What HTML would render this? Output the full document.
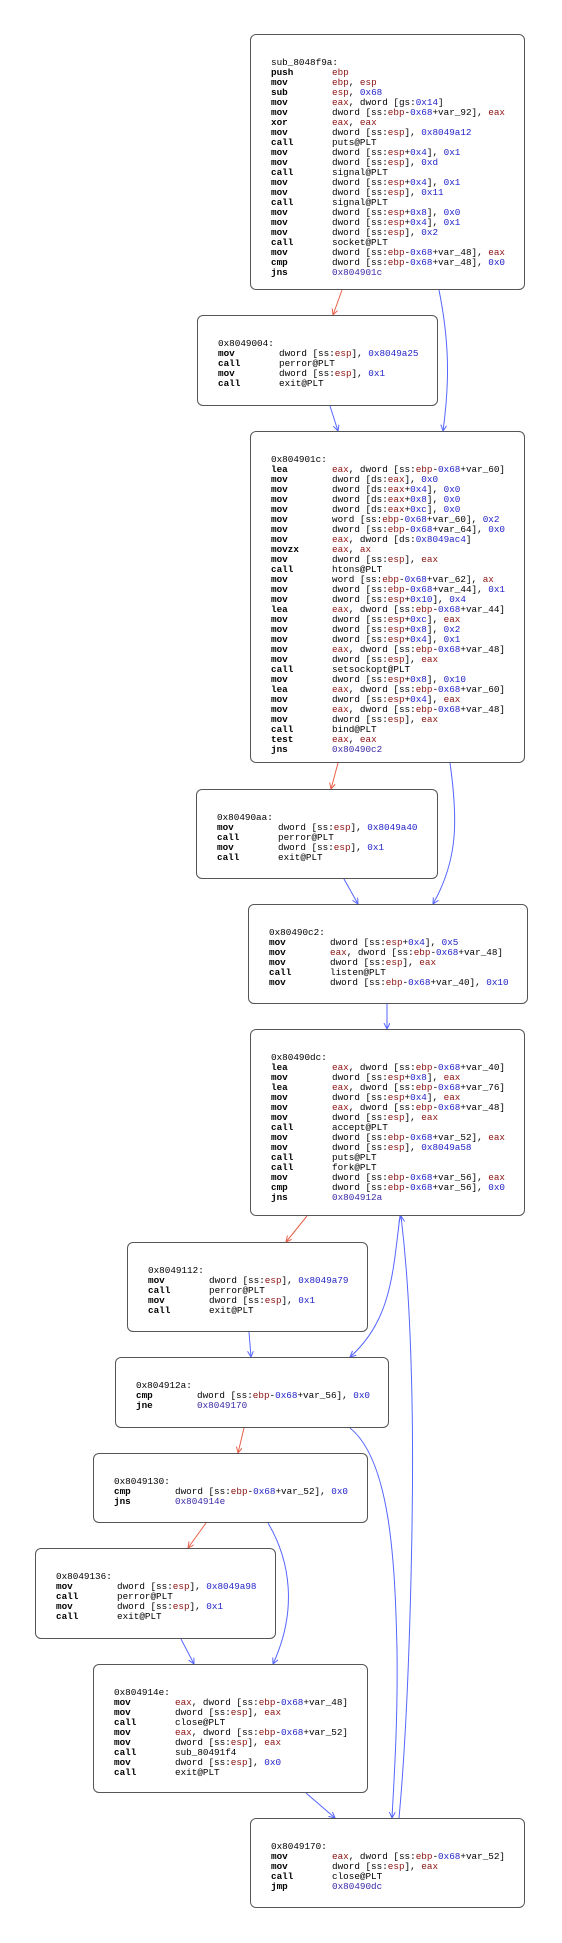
<!DOCTYPE html>
<html><head><meta charset="utf-8">
<style>
html,body{margin:0;padding:0;background:#fff;}
body{width:562px;height:1943px;position:relative;overflow:hidden;}
.bb{position:absolute;border:1.3px solid #555;border-radius:6px;box-sizing:border-box;background:#fff;
 font-family:"Liberation Mono",monospace;font-size:9.3px;line-height:10px;color:#000;padding:23px 0 0 20px;white-space:pre;}
.bb div{height:10px;}
.bb b{display:inline-block;width:61px;font-weight:bold;}
r{color:#8a1010;}
n{color:#2222c8;}
j{color:#3a2aa8;}
svg{position:absolute;left:0;top:0;}
</style></head><body>
<svg width="562" height="1943" viewBox="0 0 562 1943">
<defs>
<marker id="ab" markerWidth="8" markerHeight="8" refX="6" refY="3" orient="auto" markerUnits="userSpaceOnUse"><path d="M0,0 L6,3 L0,6" fill="none" stroke="#5566ff" stroke-width="1"/></marker>
<marker id="ar" markerWidth="8" markerHeight="8" refX="6" refY="3" orient="auto" markerUnits="userSpaceOnUse"><path d="M0,0 L6,3 L0,6" fill="none" stroke="#e8604a" stroke-width="1"/></marker>
</defs>
<g fill="none" stroke-width="1">
<path d="M342,290 L333,315" stroke="#e8604a" marker-end="url(#ar)"/>
<path d="M439,290 C449,340 450,380 443,431" stroke="#5566ff" marker-end="url(#ab)"/>
<path d="M330,406 L338,431" stroke="#5566ff" marker-end="url(#ab)"/>
<path d="M338,763 L331,789" stroke="#e8604a" marker-end="url(#ar)"/>
<path d="M450,763 C458,820 458,860 433,904" stroke="#5566ff" marker-end="url(#ab)"/>
<path d="M344,879 L358,904" stroke="#5566ff" marker-end="url(#ab)"/>
<path d="M387,1004 L387,1029" stroke="#5566ff" marker-end="url(#ab)"/>
<path d="M307,1216 L286,1242" stroke="#e8604a" marker-end="url(#ar)"/>
<path d="M249,1332 L251,1357" stroke="#5566ff" marker-end="url(#ab)"/>
<path d="M400,1216 C393,1270 392,1320 350,1357" stroke="#5566ff" marker-end="url(#ab)"/>
<path d="M399,1818 C410,1700 414,1500 412,1400 C410,1300 405,1250 401,1216" stroke="#5566ff" marker-end="url(#ab)"/>
<path d="M350,1428 C390,1460 395,1560 397,1650 C398,1720 394,1780 392,1818" stroke="#5566ff" marker-end="url(#ab)"/>
<path d="M244,1428 L238,1453" stroke="#e8604a" marker-end="url(#ar)"/>
<path d="M206,1523 L188,1548" stroke="#e8604a" marker-end="url(#ar)"/>
<path d="M268,1523 C290,1560 298,1610 273,1664" stroke="#5566ff" marker-end="url(#ab)"/>
<path d="M181,1639 L194,1664" stroke="#5566ff" marker-end="url(#ab)"/>
<path d="M306,1793 L335,1818" stroke="#5566ff" marker-end="url(#ab)"/>
</g>
</svg>

<div class="bb" style="left:250px;top:34px;width:275px;height:256px;"><div>sub_8048f9a:</div><div><b>push</b><r>ebp</r></div><div><b>mov</b><r>ebp</r>, <r>esp</r></div><div><b>sub</b><r>esp</r>, <n>0x68</n></div><div><b>mov</b><r>eax</r>, dword [gs:<n>0x14</n>]</div><div><b>mov</b>dword [ss:<r>ebp</r>-<n>0x68</n>+var_92], <r>eax</r></div><div><b>xor</b><r>eax</r>, <r>eax</r></div><div><b>mov</b>dword [ss:<r>esp</r>], <n>0x8049a12</n></div><div><b>call</b>puts@PLT</div><div><b>mov</b>dword [ss:<r>esp</r>+<n>0x4</n>], <n>0x1</n></div><div><b>mov</b>dword [ss:<r>esp</r>], <n>0xd</n></div><div><b>call</b>signal@PLT</div><div><b>mov</b>dword [ss:<r>esp</r>+<n>0x4</n>], <n>0x1</n></div><div><b>mov</b>dword [ss:<r>esp</r>], <n>0x11</n></div><div><b>call</b>signal@PLT</div><div><b>mov</b>dword [ss:<r>esp</r>+<n>0x8</n>], <n>0x0</n></div><div><b>mov</b>dword [ss:<r>esp</r>+<n>0x4</n>], <n>0x1</n></div><div><b>mov</b>dword [ss:<r>esp</r>], <n>0x2</n></div><div><b>call</b>socket@PLT</div><div><b>mov</b>dword [ss:<r>ebp</r>-<n>0x68</n>+var_48], <r>eax</r></div><div><b>cmp</b>dword [ss:<r>ebp</r>-<n>0x68</n>+var_48], <n>0x0</n></div><div><b>jns</b><j>0x804901c</j></div></div>

<div class="bb" style="left:197px;top:315px;width:241px;height:91px;"><div>0x8049004:</div><div><b>mov</b>dword [ss:<r>esp</r>], <n>0x8049a25</n></div><div><b>call</b>perror@PLT</div><div><b>mov</b>dword [ss:<r>esp</r>], <n>0x1</n></div><div><b>call</b>exit@PLT</div></div>

<div class="bb" style="left:250px;top:431px;width:275px;height:332px;"><div>0x804901c:</div><div><b>lea</b><r>eax</r>, dword [ss:<r>ebp</r>-<n>0x68</n>+var_60]</div><div><b>mov</b>dword [ds:<r>eax</r>], <n>0x0</n></div><div><b>mov</b>dword [ds:<r>eax</r>+<n>0x4</n>], <n>0x0</n></div><div><b>mov</b>dword [ds:<r>eax</r>+<n>0x8</n>], <n>0x0</n></div><div><b>mov</b>dword [ds:<r>eax</r>+<n>0xc</n>], <n>0x0</n></div><div><b>mov</b>word [ss:<r>ebp</r>-<n>0x68</n>+var_60], <n>0x2</n></div><div><b>mov</b>dword [ss:<r>ebp</r>-<n>0x68</n>+var_64], <n>0x0</n></div><div><b>mov</b><r>eax</r>, dword [ds:<n>0x8049ac4</n>]</div><div><b>movzx</b><r>eax</r>, <r>ax</r></div><div><b>mov</b>dword [ss:<r>esp</r>], <r>eax</r></div><div><b>call</b>htons@PLT</div><div><b>mov</b>word [ss:<r>ebp</r>-<n>0x68</n>+var_62], <r>ax</r></div><div><b>mov</b>dword [ss:<r>ebp</r>-<n>0x68</n>+var_44], <n>0x1</n></div><div><b>mov</b>dword [ss:<r>esp</r>+<n>0x10</n>], <n>0x4</n></div><div><b>lea</b><r>eax</r>, dword [ss:<r>ebp</r>-<n>0x68</n>+var_44]</div><div><b>mov</b>dword [ss:<r>esp</r>+<n>0xc</n>], <r>eax</r></div><div><b>mov</b>dword [ss:<r>esp</r>+<n>0x8</n>], <n>0x2</n></div><div><b>mov</b>dword [ss:<r>esp</r>+<n>0x4</n>], <n>0x1</n></div><div><b>mov</b><r>eax</r>, dword [ss:<r>ebp</r>-<n>0x68</n>+var_48]</div><div><b>mov</b>dword [ss:<r>esp</r>], <r>eax</r></div><div><b>call</b>setsockopt@PLT</div><div><b>mov</b>dword [ss:<r>esp</r>+<n>0x8</n>], <n>0x10</n></div><div><b>lea</b><r>eax</r>, dword [ss:<r>ebp</r>-<n>0x68</n>+var_60]</div><div><b>mov</b>dword [ss:<r>esp</r>+<n>0x4</n>], <r>eax</r></div><div><b>mov</b><r>eax</r>, dword [ss:<r>ebp</r>-<n>0x68</n>+var_48]</div><div><b>mov</b>dword [ss:<r>esp</r>], <r>eax</r></div><div><b>call</b>bind@PLT</div><div><b>test</b><r>eax</r>, <r>eax</r></div><div><b>jns</b><j>0x80490c2</j></div></div>

<div class="bb" style="left:196px;top:789px;width:242px;height:90px;"><div>0x80490aa:</div><div><b>mov</b>dword [ss:<r>esp</r>], <n>0x8049a40</n></div><div><b>call</b>perror@PLT</div><div><b>mov</b>dword [ss:<r>esp</r>], <n>0x1</n></div><div><b>call</b>exit@PLT</div></div>

<div class="bb" style="left:248px;top:904px;width:280px;height:100px;"><div>0x80490c2:</div><div><b>mov</b>dword [ss:<r>esp</r>+<n>0x4</n>], <n>0x5</n></div><div><b>mov</b><r>eax</r>, dword [ss:<r>ebp</r>-<n>0x68</n>+var_48]</div><div><b>mov</b>dword [ss:<r>esp</r>], <r>eax</r></div><div><b>call</b>listen@PLT</div><div><b>mov</b>dword [ss:<r>ebp</r>-<n>0x68</n>+var_40], <n>0x10</n></div></div>

<div class="bb" style="left:250px;top:1029px;width:275px;height:187px;"><div>0x80490dc:</div><div><b>lea</b><r>eax</r>, dword [ss:<r>ebp</r>-<n>0x68</n>+var_40]</div><div><b>mov</b>dword [ss:<r>esp</r>+<n>0x8</n>], <r>eax</r></div><div><b>lea</b><r>eax</r>, dword [ss:<r>ebp</r>-<n>0x68</n>+var_76]</div><div><b>mov</b>dword [ss:<r>esp</r>+<n>0x4</n>], <r>eax</r></div><div><b>mov</b><r>eax</r>, dword [ss:<r>ebp</r>-<n>0x68</n>+var_48]</div><div><b>mov</b>dword [ss:<r>esp</r>], <r>eax</r></div><div><b>call</b>accept@PLT</div><div><b>mov</b>dword [ss:<r>ebp</r>-<n>0x68</n>+var_52], <r>eax</r></div><div><b>mov</b>dword [ss:<r>esp</r>], <n>0x8049a58</n></div><div><b>call</b>puts@PLT</div><div><b>call</b>fork@PLT</div><div><b>mov</b>dword [ss:<r>ebp</r>-<n>0x68</n>+var_56], <r>eax</r></div><div><b>cmp</b>dword [ss:<r>ebp</r>-<n>0x68</n>+var_56], <n>0x0</n></div><div><b>jns</b><j>0x804912a</j></div></div>

<div class="bb" style="left:127px;top:1242px;width:241px;height:90px;"><div>0x8049112:</div><div><b>mov</b>dword [ss:<r>esp</r>], <n>0x8049a79</n></div><div><b>call</b>perror@PLT</div><div><b>mov</b>dword [ss:<r>esp</r>], <n>0x1</n></div><div><b>call</b>exit@PLT</div></div>

<div class="bb" style="left:115px;top:1357px;width:274px;height:71px;"><div>0x804912a:</div><div><b>cmp</b>dword [ss:<r>ebp</r>-<n>0x68</n>+var_56], <n>0x0</n></div><div><b>jne</b><j>0x8049170</j></div></div>

<div class="bb" style="left:93px;top:1453px;width:275px;height:70px;"><div>0x8049130:</div><div><b>cmp</b>dword [ss:<r>ebp</r>-<n>0x68</n>+var_52], <n>0x0</n></div><div><b>jns</b><j>0x804914e</j></div></div>

<div class="bb" style="left:35px;top:1548px;width:241px;height:91px;"><div>0x8049136:</div><div><b>mov</b>dword [ss:<r>esp</r>], <n>0x8049a98</n></div><div><b>call</b>perror@PLT</div><div><b>mov</b>dword [ss:<r>esp</r>], <n>0x1</n></div><div><b>call</b>exit@PLT</div></div>

<div class="bb" style="left:93px;top:1664px;width:275px;height:129px;"><div>0x804914e:</div><div><b>mov</b><r>eax</r>, dword [ss:<r>ebp</r>-<n>0x68</n>+var_48]</div><div><b>mov</b>dword [ss:<r>esp</r>], <r>eax</r></div><div><b>call</b>close@PLT</div><div><b>mov</b><r>eax</r>, dword [ss:<r>ebp</r>-<n>0x68</n>+var_52]</div><div><b>mov</b>dword [ss:<r>esp</r>], <r>eax</r></div><div><b>call</b>sub_80491f4</div><div><b>mov</b>dword [ss:<r>esp</r>], <n>0x0</n></div><div><b>call</b>exit@PLT</div></div>

<div class="bb" style="left:250px;top:1818px;width:275px;height:90px;"><div>0x8049170:</div><div><b>mov</b><r>eax</r>, dword [ss:<r>ebp</r>-<n>0x68</n>+var_52]</div><div><b>mov</b>dword [ss:<r>esp</r>], <r>eax</r></div><div><b>call</b>close@PLT</div><div><b>jmp</b><j>0x80490dc</j></div></div>
</body></html>
